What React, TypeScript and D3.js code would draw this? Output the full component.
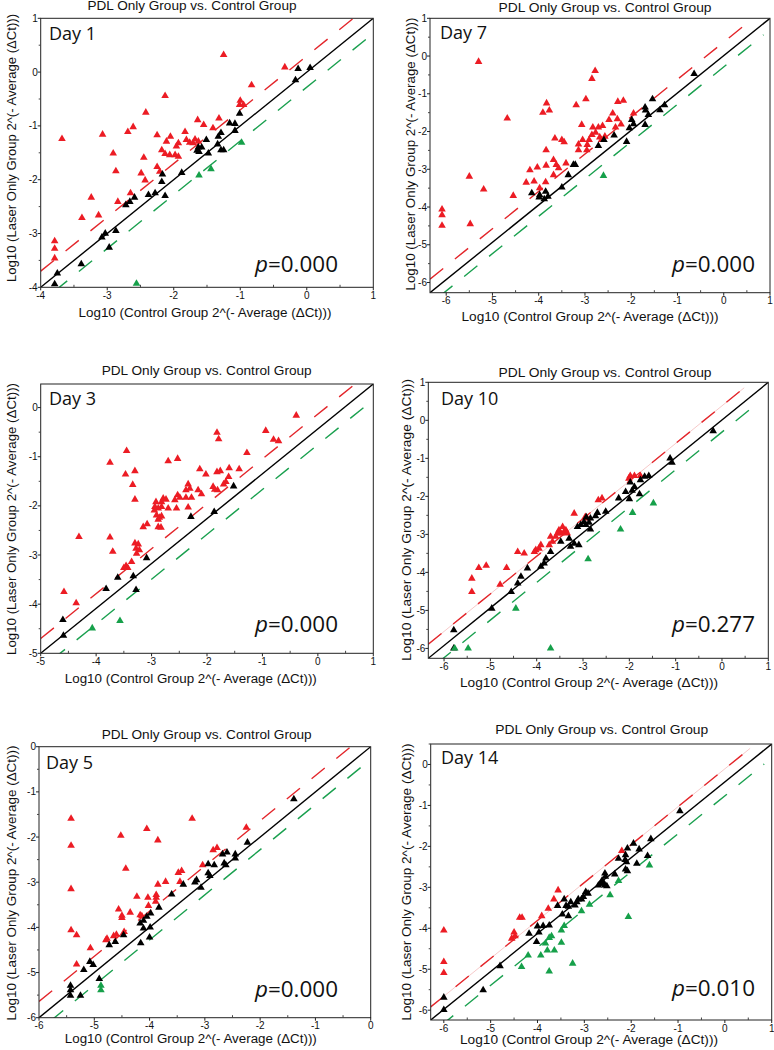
import React from 'react';
import * as d3 from 'd3';

type Pt = [number, number];

// ---------- Data (log10 control, log10 laser-only) ----------
const day1Red: Pt[] = [
  [-1.25, 0.32], [-0.33, 0.09], [-0.83, -0.24], [-2.13, -0.44], [-2.42, -0.75],
  [-1.0, -0.53], [-0.95, -0.61], [-1.01, -0.61], [-1.64, -0.89], [-1.55, -0.98],
  [-1.32, -0.86], [-1.41, -1.04], [-3.68, -1.24], [-3.07, -1.16], [-2.61, -1.02],
  [-2.69, -1.11], [-2.25, -1.17], [-1.83, -1.11], [-2.05, -1.2], [-2.11, -1.29],
  [-1.93, -1.32], [-1.96, -1.38], [-1.81, -1.26], [-1.76, -1.31], [-1.68, -1.25],
  [-1.63, -1.29], [-1.71, -1.32], [-2.18, -1.45], [-2.13, -1.52], [-2.06, -1.54],
  [-1.98, -1.54], [-1.93, -1.57], [-2.91, -1.51], [-2.45, -1.59], [-2.87, -1.84],
  [-2.25, -1.76], [-2.21, -1.85], [-2.49, -1.88], [-2.43, -2.01], [-2.65, -2.25],
  [-3.24, -2.33], [-2.84, -2.41], [-3.13, -2.66], [-3.38, -2.71], [-3.79, -3.14],
  [-3.79, -3.28], [-3.79, -3.46],
];
const day1Black: Pt[] = [
  [-0.13, 0.06], [0.05, 0.08], [-0.17, -0.15], [-1.01, -0.77], [-1.16, -0.95],
  [-1.08, -0.96], [-1.08, -1.09], [-1.29, -1.13], [-1.33, -1.2], [-1.51, -1.26],
  [-1.34, -1.34], [-1.29, -1.45], [-1.25, -1.45], [-1.48, -1.51], [-1.63, -1.4],
  [-1.58, -1.4], [-1.65, -1.46], [-1.62, -1.48], [-1.88, -1.87], [-2.17, -1.9],
  [-2.18, -2.04], [-2.13, -2.3], [-2.28, -2.25], [-2.38, -2.28], [-2.59, -2.33],
  [-2.66, -2.41], [-2.72, -2.47], [-2.87, -2.95], [-3.03, -3.0], [-3.08, -3.07],
  [-2.97, -3.26], [-3.39, -3.57], [-3.75, -3.74], [-3.79, -3.94],
];
const day1Green: Pt[] = [[-0.98, -1.31], [-1.44, -1.8], [-1.62, -1.92], [-2.56, -3.93]];

const day7Red: Pt[] = [
  [-5.3, -0.15], [-2.78, -0.39], [-2.85, -0.6], [-4.68, -1.65], [-2.98, -1.14],
  [-2.29, -1.21], [-2.17, -1.18], [-3.83, -1.25], [-3.19, -1.3], [-3.91, -1.5],
  [-3.77, -1.44], [-1.95, -1.52], [-2.4, -1.52], [-2.48, -1.69], [-2.3, -1.67],
  [-2.22, -1.81], [-3.07, -1.82], [-2.83, -1.89], [-2.71, -1.89], [-2.62, -1.85],
  [-2.34, -1.89], [-3.65, -2.18], [-3.5, -2.22], [-3.45, -2.28], [-3.14, -2.34],
  [-3.05, -2.22], [-3.14, -2.49], [-2.96, -2.49], [-2.85, -2.09], [-2.77, -2.03],
  [-2.68, -2.15], [-2.91, -2.22], [-2.95, -2.35], [-2.64, -2.22], [-2.57, -2.13],
  [-3.84, -2.49], [-3.68, -2.75], [-3.62, -2.88], [-3.57, -2.97], [-3.41, -2.84],
  [-3.84, -2.9], [-4.19, -3.02], [-4.03, -2.95], [-4.27, -3.35], [-4.1, -3.32],
  [-3.85, -3.34], [-3.68, -3.15], [-3.98, -3.5], [-5.5, -3.19], [-5.19, -3.53],
  [-4.55, -3.7], [-6.09, -4.06], [-6.09, -4.21], [-6.09, -4.49], [-5.48, -4.45],
];
const day7Black: Pt[] = [
  [-0.64, -0.47], [-1.54, -1.14], [-1.7, -1.36], [-1.69, -1.44], [-1.28, -1.3],
  [-1.38, -1.43], [-1.99, -1.69], [-1.95, -1.8], [-1.63, -1.56], [-1.7, -1.82],
  [-2.04, -1.91], [-2.37, -2.1], [-2.59, -2.22], [-2.71, -2.38], [-2.1, -2.27],
  [-3.21, -2.88], [-3.25, -2.88], [-3.36, -3.15], [-3.5, -3.48], [-3.98, -3.68],
  [-3.85, -3.59], [-3.8, -3.72], [-3.88, -3.79], [-3.99, -3.74], [-4.15, -3.63],
];
const day7Green: Pt[] = [[-2.6, -3.17]];

const day3Red: Pt[] = [
  [-0.39, -0.16], [-0.94, -0.47], [-1.82, -0.51], [-1.79, -0.64], [-0.8, -0.65],
  [-0.71, -0.68], [-1.28, -0.92], [-3.45, -0.88], [-3.75, -1.12], [-2.7, -1.09],
  [-2.53, -1.04], [-3.47, -1.36], [-3.3, -1.29], [-3.34, -1.57], [-3.3, -1.87],
  [-2.13, -1.25], [-2.02, -1.36], [-1.82, -1.31], [-1.76, -1.29], [-1.6, -1.23],
  [-1.42, -1.25], [-1.61, -1.41], [-1.66, -1.51], [-1.7, -1.56], [-1.89, -1.61],
  [-1.86, -1.67], [-1.81, -1.68], [-2.34, -1.56], [-2.31, -1.65], [-2.16, -1.68],
  [-2.1, -1.76], [-2.38, -1.68], [-2.53, -1.78], [-2.49, -1.83], [-2.58, -1.88],
  [-2.38, -1.83], [-2.28, -1.83], [-2.79, -1.85], [-2.74, -1.87], [-2.82, -1.92],
  [-2.92, -1.92], [-2.94, -2.02], [-2.88, -2.05], [-2.95, -2.09], [-2.82, -2.02],
  [-2.7, -2.05], [-2.55, -2.05], [-2.34, -2.03], [-2.91, -2.19], [-2.86, -2.24],
  [-2.82, -2.21], [-2.88, -2.28], [-3.15, -2.43], [-3.08, -2.37], [-2.88, -2.43],
  [-2.83, -2.44], [-3.75, -2.64], [-3.7, -2.93], [-3.3, -2.76], [-3.24, -2.78],
  [-3.28, -2.87], [-3.22, -2.9], [-3.27, -2.97], [-3.36, -3.14], [-3.46, -3.22],
  [-3.43, -3.26], [-3.5, -3.26], [-4.31, -2.63], [-4.58, -3.75], [-4.36, -3.98],
];
const day3Black: Pt[] = [
  [-1.52, -1.6], [-1.87, -2.12], [-2.29, -2.22], [-3.09, -3.06], [-3.33, -3.43],
  [-3.61, -3.46], [-3.82, -3.69], [-3.28, -3.71], [-4.6, -4.32], [-4.59, -4.64],
];
const day3Green: Pt[] = [[-3.57, -4.34], [-4.07, -4.49]];

const day10Red: Pt[] = [
  [-1.98, -1.46], [-1.89, -1.46], [-1.76, -1.46], [-2.01, -1.53], [-2.67, -2.1],
  [-2.59, -2.05], [-3.19, -2.45], [-2.95, -2.54], [-2.91, -2.58], [-3.44, -2.8],
  [-3.52, -2.89], [-3.55, -2.97], [-3.48, -2.97], [-3.41, -2.93], [-3.37, -2.89],
  [-3.34, -2.97], [-3.59, -3.06], [-3.7, -3.06], [-3.66, -3.19], [-3.73, -3.28],
  [-3.91, -3.28], [-3.95, -3.37], [-4.02, -3.41], [-4.05, -3.46], [-4.27, -3.5],
  [-4.41, -3.46], [-5.25, -3.88], [-5.09, -3.82], [-4.65, -3.88], [-5.4, -4.16],
  [-5.4, -4.51], [-4.79, -4.32],
];
const day10Black: Pt[] = [
  [-0.19, -0.28], [-1.12, -1.0], [-1.08, -1.11], [-1.58, -1.46], [-1.67, -1.48],
  [-1.76, -1.57], [-1.98, -1.63], [-1.89, -1.75], [-1.94, -1.85], [-2.0, -2.07],
  [-1.78, -1.94], [-2.08, -1.88], [-2.23, -2.05], [-2.51, -2.4], [-2.69, -2.43],
  [-2.73, -2.52], [-2.84, -2.58], [-2.93, -2.55], [-2.98, -2.67], [-3.05, -2.75],
  [-3.12, -2.8], [-2.84, -2.87], [-2.87, -2.69], [-2.94, -2.75], [-3.48, -3.19],
  [-3.3, -3.11], [-3.19, -3.24], [-3.09, -3.28], [-3.27, -3.32], [-3.7, -3.46],
  [-3.8, -3.63], [-3.84, -3.76], [-3.91, -3.85], [-4.2, -3.89], [-4.34, -4.11],
  [-4.41, -4.29], [-4.55, -4.51], [-4.97, -4.95], [-5.79, -5.52], [-5.79, -6.0],
];
const day10Green: Pt[] = [
  [-1.48, -2.18], [-1.93, -2.43], [-2.19, -2.87], [-2.89, -3.65], [-4.45, -4.95],
  [-3.7, -6.0], [-5.48, -6.0], [-5.77, -6.0],
];

const day5Red: Pt[] = [
  [-5.42, -1.59], [-5.42, -2.19], [-5.42, -3.15], [-5.42, -4.06], [-5.32, -4.17],
  [-5.32, -4.82], [-5.07, -4.46], [-3.23, -1.59], [-4.05, -1.82], [-3.85, -2.07],
  [-4.52, -1.97], [-4.43, -2.7], [-2.25, -1.79], [-2.85, -2.29], [-2.78, -2.24],
  [-3.04, -2.62], [-3.42, -2.75], [-3.48, -2.79], [-3.45, -2.99], [-3.71, -2.99],
  [-3.85, -3.05], [-3.88, -3.28], [-3.88, -3.34], [-3.89, -3.43], [-4.03, -3.34],
  [-4.23, -3.32], [-4.02, -3.52], [-4.35, -3.67], [-4.56, -3.6], [-4.5, -3.74],
  [-4.5, -3.79], [-4.17, -3.73], [-4.14, -3.75], [-4.65, -4.19], [-4.6, -4.16],
  [-4.77, -4.25], [-4.79, -4.28], [-4.46, -4.1],
];
const day5Black: Pt[] = [
  [-1.39, -1.16], [-2.23, -2.12], [-2.45, -2.38], [-2.45, -2.47], [-2.6, -2.34],
  [-2.68, -2.38], [-2.65, -2.58], [-2.62, -2.62], [-2.83, -2.62], [-2.94, -2.6],
  [-2.94, -2.8], [-2.91, -2.86], [-3.07, -3.12], [-3.15, -2.95], [-3.18, -3.0],
  [-3.39, -3.05], [-3.6, -3.27], [-3.83, -3.56], [-3.98, -3.69], [-4.05, -3.76],
  [-4.17, -3.91], [-4.11, -3.85], [-4.11, -4.02], [-3.99, -4.0], [-4.0, -4.22],
  [-4.16, -4.35], [-4.47, -4.17], [-4.62, -4.32], [-4.73, -4.39], [-5.08, -4.76],
  [-5.02, -4.83], [-5.19, -4.94], [-4.91, -5.14], [-5.43, -5.29], [-5.43, -5.39],
  [-5.43, -5.51], [-5.25, -5.51],
];
const day5Green: Pt[] = [[-4.88, -5.29], [-4.88, -5.39]];

const day14Red: Pt[] = [
  [-2.2, -2.11], [-3.56, -3.07], [-3.65, -3.29], [-3.77, -3.52], [-4.38, -3.74],
  [-4.33, -3.74], [-3.91, -3.7], [-4.5, -4.1], [-4.48, -4.19], [-4.55, -4.25],
  [-6.0, -4.05], [-6.0, -4.82], [-6.0, -5.09],
];
const day14Black: Pt[] = [
  [-0.96, -1.14], [-1.58, -1.82], [-1.95, -1.93], [-2.08, -2.05], [-1.83, -2.07],
  [-2.12, -2.21], [-2.13, -2.33], [-2.1, -2.38], [-2.27, -2.3], [-1.88, -2.42],
  [-1.65, -2.23], [-2.12, -2.56], [-2.08, -2.6], [-2.35, -2.68], [-2.56, -2.66],
  [-2.55, -2.74], [-2.62, -2.83], [-2.66, -2.91], [-2.59, -2.91], [-2.56, -2.95],
  [-2.52, -2.97], [-2.7, -2.95], [-2.92, -3.15], [-2.97, -3.11], [-3.02, -3.23],
  [-3.06, -3.29], [-3.13, -3.29], [-3.16, -3.36], [-3.2, -3.44], [-3.29, -3.36],
  [-3.34, -3.47], [-3.39, -3.45], [-3.43, -3.29], [-3.57, -3.45], [-3.47, -3.66],
  [-3.34, -3.7], [-3.75, -3.93], [-3.88, -3.94], [-4.0, -3.95], [-3.97, -4.1],
  [-4.02, -4.33], [-4.18, -4.13], [-4.8, -4.92], [-5.16, -5.51], [-6.0, -5.69],
  [-6.0, -5.99],
];
const day14Green: Pt[] = [
  [-1.61, -2.46], [-2.06, -3.72], [-2.27, -2.84], [-2.45, -3.19], [-2.89, -3.42],
  [-3.06, -3.58], [-3.43, -3.94], [-3.49, -4.05], [-3.49, -4.35], [-3.7, -4.19],
  [-3.75, -4.23], [-3.83, -4.37], [-3.79, -4.54], [-3.64, -4.54], [-3.93, -4.66],
  [-4.2, -4.66], [-4.34, -4.94], [-3.75, -5.05], [-3.25, -4.86],
];

// tick labels
const ticksDay1 = [-4, -3, -2, -1, 0, 1];
const ticksDay3X = [-5, -4, -3, -2, -1, 0, 1];
const ticksDay3Y = [-5, -4, -3, -2, -1, 0];
const ticksWideX = [-6, -5, -4, -3, -2, -1, 0, 1];
const ticksWideY = [-6, -5, -4, -3, -2, -1, 0, 1];
const ticksDay5 = [-6, -5, -4, -3, -2, -1, 0];
const ticksDay14Y = [-6, -5, -4, -3, -2, -1, 0];

const dayLabels = ['Day 1', 'Day 7', 'Day 3', 'Day 10', 'Day 5', 'Day 14'];
const pValues = ['0.000', '0.000', '0.000', '0.277', '0.000', '0.010'];
// fold-change boundary offsets (log10 units) [red above, green below]
const boundaryOffsets: Pt[] = [[0.3, 0.28], [0.36, 0.3], [0.3, 0.32], [0.37, 0.32], [0.36, 0.28], [0.32, 0.34]];

const TITLE = 'PDL Only Group vs. Control Group';
const XLABEL = 'Log10 (Control Group 2^(- Average (\u0394Ct)))';
const YLABEL = 'Log10 (Laser Only Group 2^(- Average (\u0394Ct)))';

const RED = '#ec1c24';
const GREEN = '#16a04a';
const SANS = '"Liberation Sans", Arial, Helvetica, sans-serif';
const MYRIAD = '"Open Sans", "Noto Sans", sans-serif';

interface PanelCfg {
  red: Pt[]; black: Pt[]; green: Pt[];
  left: number; right: number; top: number; bottom: number;
  xDomain: Pt; yDomain: Pt; xTicks: number[]; yTicks: number[];
  rEnd: number; gEnd: number; pink: boolean;
  title: [number, number, number]; xlab: [number, number, number]; ylab: [number, number, number];
  dayPos: Pt; pPos: Pt;
}

const panels: PanelCfg[] = [
  {
    red: day1Red, black: day1Black, green: day1Green,
    left: 40.7, right: 373.3, top: 18.3, bottom: 287.3,
    xDomain: [-4, 1], yDomain: [-4, 1], xTicks: ticksDay1, yTicks: ticksDay1,
    rEnd: 1, gEnd: 1, pink: false,
    title: [192, 10, 209], xlab: [205, 316.5, 253], ylab: [15.5, 148, 268],
    dayPos: [49, 39.5], pPos: [255, 272],
  },
  {
    red: day7Red, black: day7Black, green: day7Green,
    left: 430, right: 770, top: 18.3, bottom: 292.7,
    xDomain: [-6.35, 1], yDomain: [-6.27, 1], xTicks: ticksWideX, yTicks: ticksWideY,
    rEnd: 0.48, gEnd: 0.86, pink: false,
    title: [605, 12, 213], xlab: [590, 320.5, 257], ylab: [415, 154, 273],
    dayPos: [440, 39], pPos: [672, 271.5],
  },
  {
    red: day3Red, black: day3Black, green: day3Green,
    left: 40.7, right: 373.3, top: 384, bottom: 653.3,
    xDomain: [-5, 1], yDomain: [-5, 0.48], xTicks: ticksDay3X, yTicks: ticksDay3Y,
    rEnd: 1, gEnd: 1, pink: false,
    title: [206.7, 375, 210], xlab: [190.8, 682.5, 252], ylab: [15.5, 519, 272],
    dayPos: [49, 405], pPos: [255, 632],
  },
  {
    red: day10Red, black: day10Black, green: day10Green,
    left: 428.3, right: 768.3, top: 382.3, bottom: 658.3,
    xDomain: [-6.34, 1], yDomain: [-6.26, 1], xTicks: ticksWideX, yTicks: ticksWideY,
    rEnd: 0.48, gEnd: 0.82, pink: true,
    title: [605, 376.5, 213], xlab: [589, 686.5, 258], ylab: [410.7, 520, 282],
    dayPos: [441, 405], pPos: [672, 632],
  },
  {
    red: day5Red, black: day5Black, green: day5Green,
    left: 39, right: 370.7, top: 746.7, bottom: 1017.7,
    xDomain: [-6, 0], yDomain: [-6, 0], xTicks: ticksDay5, yTicks: ticksDay5,
    rEnd: 0, gEnd: -0.18, pink: false,
    title: [206.7, 739, 210], xlab: [190.8, 1043, 252], ylab: [15.5, 883, 275],
    dayPos: [46, 769], pPos: [255, 996.5],
  },
  {
    red: day14Red, black: day14Black, green: day14Green,
    left: 430.7, right: 771.7, top: 744, bottom: 1020,
    xDomain: [-6.28, 1], yDomain: [-6.24, 0.5], xTicks: ticksWideX, yTicks: ticksDay14Y,
    rEnd: 0.54, gEnd: 0.84, pink: true,
    title: [601.7, 734, 213], xlab: [589, 1044, 258], ylab: [410.7, 882, 277],
    dayPos: [441, 764], pPos: [672, 996],
  },
];

const triPath = d3.symbol().type(d3.symbolTriangle).size(25)() as string;

function Panel({ cfg, idx }: { cfg: PanelCfg; idx: number }) {
  const x = d3.scaleLinear().domain(cfg.xDomain).range([cfg.left, cfg.right]);
  const y = d3.scaleLinear().domain(cfg.yDomain).range([cfg.bottom, cfg.top]);
  const [x0, x1] = cfg.xDomain;
  const [y0, y1] = cfg.yDomain;
  const slope = (y1 - y0) / (x1 - x0);
  const diag = (v: number) => y0 + (v - x0) * slope;
  const [rOff, gOff] = boundaryOffsets[idx];
  const line = d3.line<Pt>().x((d) => x(d[0])).y((d) => y(d[1]));
  const diagLine = line([[x0, y0], [x1, y1]]) as string;
  const redLine = line([[x0, diag(x0) + rOff], [cfg.rEnd, diag(cfg.rEnd) + rOff]]) as string;
  const greenLine = line([[x0 + 0.2, diag(x0 + 0.2) - gOff], [cfg.gEnd, diag(cfg.gEnd) - gOff]]) as string;
  const clipId = `clip${idx}`;
  const minorX = cfg.xTicks.slice(1).map((t, i) => (t + cfg.xTicks[i]) / 2);
  const minorY = cfg.yTicks.slice(1).map((t, i) => (t + cfg.yTicks[i]) / 2);
  if (cfg.yTicks[cfg.yTicks.length - 1] + 0.5 <= y1) minorY.push(cfg.yTicks[cfg.yTicks.length - 1] + 0.5);
  if (cfg.xTicks[0] - 0.5 >= x0) minorX.unshift(cfg.xTicks[0] - 0.5);
  if (cfg.yTicks[0] - 0.5 >= y0) minorY.unshift(cfg.yTicks[0] - 0.5);

  const tri = (pts: Pt[], color: string, key: string) =>
    pts.map((d, i) => (
      <path key={key + i} d={triPath} transform={`translate(${x(d[0])},${y(d[1])})`} fill={color} />
    ));

  return (
    <g>
      <defs>
        <clipPath id={clipId}>
          <rect x={cfg.left} y={cfg.top} width={cfg.right - cfg.left} height={cfg.bottom - cfg.top} />
        </clipPath>
      </defs>
      {/* title */}
      <text x={cfg.title[0]} y={cfg.title[1]} textAnchor="middle" fontFamily={SANS} fontSize={12.5}
        textLength={cfg.title[2]} lengthAdjust="spacingAndGlyphs" fill="#111">{TITLE}</text>
      {/* lines */}
      <g clipPath={`url(#${clipId})`}>
        {cfg.pink && <path d={redLine} stroke="#f6c9c9" strokeWidth={1} fill="none" />}
        <path d={redLine} stroke="#e3262b" strokeWidth={1.4} strokeDasharray="17 15" fill="none" />
        <path d={greenLine} stroke="#1aa04f" strokeWidth={1.4} strokeDasharray="17 15" fill="none" />
        <path d={diagLine} stroke="#000" strokeWidth={1.4} fill="none" />
        {tri(cfg.red, RED, 'r')}
        {tri(cfg.black, '#000', 'b')}
        {tri(cfg.green, GREEN, 'g')}
      </g>
      {/* frame */}
      <rect x={cfg.left} y={cfg.top} width={cfg.right - cfg.left} height={cfg.bottom - cfg.top}
        fill="none" stroke="#222" strokeWidth={1} />
      {/* x ticks */}
      {cfg.xTicks.map((t) => (
        <g key={'xt' + t}>
          <line x1={x(t)} x2={x(t)} y1={cfg.bottom} y2={cfg.bottom + 3} stroke="#222" />
          <text x={x(t)} y={cfg.bottom + 11.5} textAnchor="middle" fontFamily={SANS} fontSize={10} fill="#111">{t}</text>
        </g>
      ))}
      {minorX.map((t) => (
        <line key={'xm' + t} x1={x(t)} x2={x(t)} y1={cfg.bottom} y2={cfg.bottom - 2.5} stroke="#444" />
      ))}
      {/* y ticks */}
      {cfg.yTicks.map((t) => (
        <g key={'yt' + t}>
          <line x1={cfg.left - 3} x2={cfg.left} y1={y(t)} y2={y(t)} stroke="#222" />
          <text x={cfg.left - 3} y={y(t) + 3.5} textAnchor="end" fontFamily={SANS} fontSize={10} fill="#111">{t}</text>
        </g>
      ))}
      {minorY.map((t) => (
        <line key={'ym' + t} x1={cfg.left - 2} x2={cfg.left} y1={y(t)} y2={y(t)} stroke="#444" />
      ))}
      {/* axis labels */}
      <text x={cfg.xlab[0]} y={cfg.xlab[1]} textAnchor="middle" fontFamily={SANS} fontSize={12.5}
        textLength={cfg.xlab[2]} lengthAdjust="spacingAndGlyphs" fill="#111">{XLABEL}</text>
      <text transform={`translate(${cfg.ylab[0]},${cfg.ylab[1]}) rotate(-90)`} textAnchor="middle"
        fontFamily={SANS} fontSize={12.5} textLength={cfg.ylab[2]} lengthAdjust="spacingAndGlyphs"
        fill="#111">{YLABEL}</text>
      {/* annotations */}
      <text x={cfg.dayPos[0]} y={cfg.dayPos[1]} fontFamily={MYRIAD} fontSize={18} fill="#111">{dayLabels[idx]}</text>
      <text x={cfg.pPos[0]} y={cfg.pPos[1]} fontFamily={MYRIAD} fontSize={22} fill="#111"
        textLength={83} lengthAdjust="spacingAndGlyphs">
        <tspan fontStyle="italic">p</tspan>={pValues[idx]}
      </text>
    </g>
  );
}

export default function App() {
  return (
    <svg width={774} height={1050} style={{ position: 'absolute', left: 0, top: 0, background: '#fff' }}
      xmlns="http://www.w3.org/2000/svg">
      <rect x={0} y={0} width={774} height={1050} fill="#fff" />
      {panels.map((cfg, i) => (
        <Panel key={i} cfg={cfg} idx={i} />
      ))}
    </svg>
  );
}
